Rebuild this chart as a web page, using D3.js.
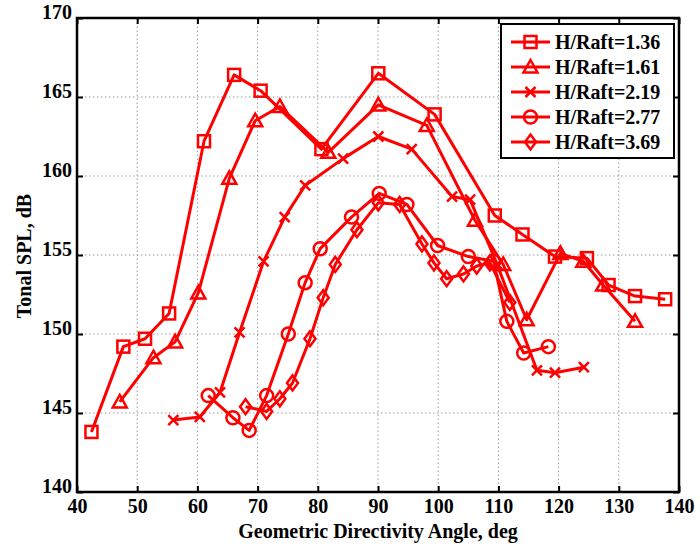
<!DOCTYPE html>
<html>
<head>
<meta charset="utf-8">
<script src="https://cdnjs.cloudflare.com/ajax/libs/d3/7.8.5/d3.min.js"></script>
<style>
  body { margin: 0; background: #fff; }
  text { font-family: "Liberation Serif", "Times New Roman", serif; font-weight: bold; }
</style>
</head>
<body>
<svg width="700" height="546"></svg>
<script>
var width = 700;
var height = 546;

// data (angle in deg, SPL in dB)
var seriesNames = ["H/Raft=1.36", "H/Raft=1.61", "H/Raft=2.19", "H/Raft=2.77", "H/Raft=3.69"];
var markerKinds = ["square", "triangle", "cross", "circle", "diamond"];

var s136 = [[42.4,143.8],[47.7,149.2],[51.3,149.7],[55.3,151.3],[61.1,162.2],[66.1,166.4],[70.5,165.4],
            [80.6,161.7],[90.05,166.5],[99.4,163.9],[109.4,157.5],[114.0,156.3],[119.4,154.9],
            [124.7,154.8],[128.3,153.1],[132.7,152.4],[137.7,152.2]];
var s161 = [[47.1,145.7],[52.7,148.5],[56.3,149.5],[60.15,152.6],[65.3,159.85],[69.6,163.5],[73.7,164.4],
            [81.75,161.5],[90.05,164.5],[98.1,163.2],[106.1,157.2],[110.8,154.4],[114.7,150.9],
            [120.3,155.1],[124.1,154.6],[127.4,153.1],[132.7,150.8]];
var s219 = [[56.0,144.55],[60.4,144.75],[63.75,146.3],[67.0,150.1],[71.0,154.6],[74.5,157.4],[77.9,159.4],
            [84.2,161.1],[90.05,162.5],[95.6,161.7],[102.3,158.7],[105.3,158.5],[109.8,154.4],
            [116.4,147.7],[119.4,147.55],[124.2,147.9]];
var s277 = [[61.8,146.1],[65.9,144.7],[68.6,143.9],[71.5,146.1],[75.1,150.0],[77.9,153.25],[80.4,155.4],
            [85.6,157.4],[90.2,158.9],[94.8,158.2],[99.9,155.6],[105.0,154.9],[109.2,154.6],
            [111.4,150.8],[114.2,148.8],[118.3,149.2]];
var s369 = [[68.0,145.4],[71.5,145.1],[73.7,145.9],[75.8,146.9],[78.7,149.7],[80.9,152.3],[82.9,154.4],
            [86.5,156.6],[90.05,158.3],[93.6,158.2],[97.3,155.7],[99.3,154.5],[101.4,153.5],
            [104.2,153.8],[106.4,154.3],[108.6,154.5],[111.9,152.0]];
var allSeries = [s136, s161, s219, s277, s369];

var xTicks = [40, 50, 60, 70, 80, 90, 100, 110, 120, 130, 140];
var yTicks = [140, 145, 150, 155, 160, 165, 170];

var margin = {left: 77, right: 21, top: 18, bottom: 54};

var x = d3.scaleLinear().domain([40, 140]).range([margin.left, width - margin.right]);
var y = d3.scaleLinear().domain([140, 170]).range([height - margin.bottom, margin.top]);

var svg = d3.select("svg");
var red = "#ff0000";

// grid
var grid = svg.append("g");
grid.selectAll(".gx").data(xTicks.slice(1, -1)).enter().append("line")
    .attr("x1", function(d) { return x(d); }).attr("x2", function(d) { return x(d); })
    .attr("y1", y(140)).attr("y2", y(170))
    .style("stroke", "#999").style("stroke-width", 1).style("stroke-dasharray", "1.5,2.5");
grid.selectAll(".gy").data(yTicks.slice(1, -1)).enter().append("line")
    .attr("y1", function(d) { return y(d); }).attr("y2", function(d) { return y(d); })
    .attr("x1", x(40)).attr("x2", x(140))
    .style("stroke", "#999").style("stroke-width", 1).style("stroke-dasharray", "1.5,2.5");

// axes (Matlab style ticks inside)
var xAxis = svg.append("g").attr("transform", "translate(0," + y(140) + ")")
    .call(d3.axisBottom(x).tickValues(xTicks).tickSize(-6).tickPadding(10).tickFormat(d3.format("d")));
var xTop = svg.append("g").attr("transform", "translate(0," + y(170) + ")")
    .call(d3.axisTop(x).tickValues(xTicks).tickSize(-6).tickFormat(""));
var yAxis = svg.append("g").attr("transform", "translate(" + x(40) + ",0)")
    .call(d3.axisLeft(y).tickValues(yTicks).tickSize(-6).tickPadding(5).tickFormat(d3.format("d")));
var yRight = svg.append("g").attr("transform", "translate(" + x(140) + ",0)")
    .call(d3.axisRight(y).tickValues(yTicks).tickSize(-6).tickFormat(""));

[xAxis, xTop, yAxis, yRight].forEach(function(a) {
  a.select(".domain").remove();
  a.selectAll(".tick line").style("stroke", "#000").style("stroke-width", 2);
  a.selectAll(".tick text").style("font-size", "20px").style("fill", "#000");
});
xAxis.selectAll(".tick text").attr("dy", "0.55em");
yAxis.selectAll(".tick text").attr("dy", "0.0em");

// box
svg.append("rect")
    .attr("x", x(40)).attr("y", y(170))
    .attr("width", x(140) - x(40)).attr("height", y(140) - y(170))
    .style("fill", "none").style("stroke", "#000").style("stroke-width", 2.5);

// axis titles
svg.append("text")
    .attr("x", (x(40) + x(140)) / 2).attr("y", 538)
    .attr("text-anchor", "middle").style("font-size", "20px")
    .text("Geometric Directivity Angle, deg");
svg.append("text")
    .attr("transform", "translate(31," + 256 + ") rotate(-90)")
    .attr("text-anchor", "middle").style("font-size", "20px")
    .text("Tonal SPL, dB");

// markers
function drawMarker(sel, kind) {
  if (kind == "square") {
    sel.append("rect").attr("x", -6).attr("y", -6).attr("width", 12).attr("height", 12);
  } else if (kind == "triangle") {
    sel.append("path").attr("d", "M0,-7L7,5.5L-7,5.5Z");
  } else if (kind == "cross") {
    sel.append("path").attr("d", "M-5,-5L5,5M-5,5L5,-5");
  } else if (kind == "circle") {
    sel.append("circle").attr("r", 6.5);
  } else {
    sel.append("path").attr("d", "M0,-7.5L5.5,0L0,7.5L-5.5,0Z");
  }
}

var line = d3.line().x(function(d) { return x(d[0]); }).y(function(d) { return y(d[1]); });

var plot = svg.append("g");
allSeries.forEach(function(data, i) {
  var g = plot.append("g");
  g.append("path").datum(data).attr("d", line)
      .style("fill", "none").style("stroke", red).style("stroke-width", 3)
      .style("stroke-linejoin", "round");
  var m = g.selectAll(".m").data(data).enter().append("g")
      .attr("transform", function(d) { return "translate(" + x(d[0]) + "," + y(d[1]) + ")"; })
      .style("fill", "none").style("stroke", red).style("stroke-width", 2.5);
  m.each(function() { drawMarker(d3.select(this), markerKinds[i]); });
});

// legend
var leg = svg.append("g");
leg.append("rect").attr("x", 501).attr("y", 24).attr("width", 173).attr("height", 134)
    .style("fill", "#fff").style("stroke", "#000").style("stroke-width", 2);
seriesNames.forEach(function(name, i) {
  var cy = 42 + i * 25;
  leg.append("line").attr("x1", 511).attr("x2", 550).attr("y1", cy).attr("y2", cy)
      .style("stroke", red).style("stroke-width", 3);
  var mk = leg.append("g").attr("transform", "translate(530.5," + cy + ")")
      .style("fill", "none").style("stroke", red).style("stroke-width", 2.5);
  drawMarker(mk, markerKinds[i]);
  leg.append("text").attr("x", 555).attr("y", cy + 7).style("font-size", "20px").text(name);
});
</script>
</body>
</html>
